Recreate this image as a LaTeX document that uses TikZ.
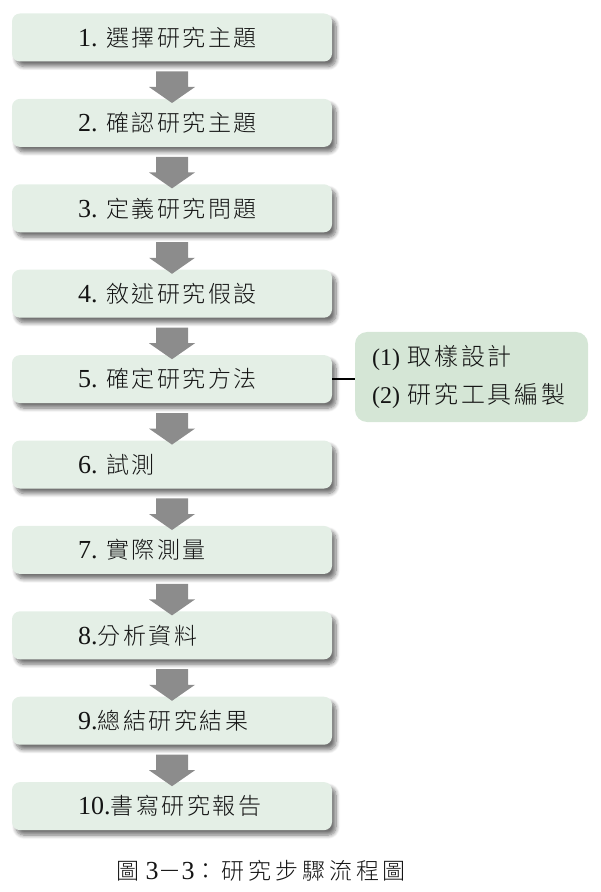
\documentclass[tikz,border=0pt]{standalone}
\usepackage{fontspec}
\setmainfont{Liberation Serif}
\newfontfamily\latinfont{Liberation Serif}
\newfontfamily\cjkfont[LetterSpace=11, UprightFont=* Light]{Noto Sans CJK TC}
\newfontfamily\cjkwide[LetterSpace=17, UprightFont=* Light]{Noto Sans CJK TC}
\newcommand{\zhtext}[1]{{\cjkfont\fontsize{11.5pt}{14pt}\selectfont #1}}
\newcommand{\zhside}[1]{{\cjkfont\fontsize{12pt}{14pt}\selectfont #1}}
\newcommand{\zhcap}[1]{{\cjkwide\fontsize{11.5pt}{14pt}\selectfont #1}}
\usetikzlibrary{calc,shadows.blur}

\definecolor{boxfill}{RGB}{228,239,230}
\definecolor{sidefill}{RGB}{213,230,214}
\definecolor{arrowgray}{RGB}{140,140,140}
\definecolor{inkcol}{RGB}{20,20,20}

\tikzset{
  stepbox/.style={fill=boxfill, rounded corners=4pt,
    minimum width=160pt, minimum height=24pt,
    inner xsep=33pt, inner ysep=0pt, text=inkcol,
    font=\latinfont\fontsize{13pt}{15pt}\selectfont,
    blur shadow={shadow xshift=2pt, shadow yshift=-2.5pt,
      shadow blur radius=2pt, shadow blur steps=8, shadow opacity=55}},
  sidebox/.style={fill=sidefill, rounded corners=6pt,
    minimum width=116.5pt, minimum height=45pt,
    inner xsep=8.5pt, inner ysep=0pt, text width=99.5pt, align=left,
    text=inkcol, font=\latinfont\fontsize{12pt}{19pt}\selectfont},
  caption/.style={text=inkcol, inner sep=0pt,
    font=\latinfont\fontsize{13pt}{15pt}\selectfont},
  linkline/.style={draw=black, line width=1pt}
}

% label text starts at a fixed distance from the left edge of its box
\newcommand{\boxlabel}[1]{\makebox[94pt][l]{#1}}

% thick block arrow from the bottom of one step to the top of the next
\newcommand{\flowarrow}[2]{%
  \fill[arrowgray]
    ($(#1.south)+(-16,9.5)$) -- ($(#1.south)+(16,9.5)$) --
    ($(#2.north)+(16,-11.5)$) -- ($(#2.north)+(23,-11.5)$) --
    ($(#2.north)+(0,4.5)$) --
    ($(#2.north)+(-23,-11.5)$) -- ($(#2.north)+(-16,-11.5)$) -- cycle;}

\begin{document}
\begin{tikzpicture}[x=0.5pt,y=-0.5pt]
  \useasboundingbox (0,0) rectangle (600,892);

  \node[stepbox] (s1)  at (172,37.5)  {\boxlabel{1. \zhtext{選擇研究主題}}};
  \node[stepbox] (s2)  at (172,122.9) {\boxlabel{2. \zhtext{確認研究主題}}};
  \node[stepbox] (s3)  at (172,208.3) {\boxlabel{3. \zhtext{定義研究問題}}};
  \node[stepbox] (s4)  at (172,293.7) {\boxlabel{4. \zhtext{敘述研究假設}}};
  \node[stepbox] (s5)  at (172,379.1) {\boxlabel{5. \zhtext{確定研究方法}}};
  \node[stepbox] (s6)  at (172,464.5) {\boxlabel{6. \zhtext{試測}}};
  \node[stepbox] (s7)  at (172,549.9) {\boxlabel{7. \zhtext{實際測量}}};
  \node[stepbox] (s8)  at (172,635.3) {\boxlabel{8.\zhtext{分析資料}}};
  \node[stepbox] (s9)  at (172,720.7) {\boxlabel{9.\zhtext{總結研究結果}}};
  \node[stepbox] (s10) at (172,806.1) {\boxlabel{10.\zhtext{書寫研究報告}}};

  \foreach \a/\b in {s1/s2,s2/s3,s3/s4,s4/s5,s5/s6,s6/s7,s7/s8,s8/s9,s9/s10}
    {\flowarrow{\a}{\b}}

  \node[sidebox] (detail) at (471.5,377)
    {(1) \zhside{取樣設計}\\(2) \zhside{研究工具編製}};
  \draw[linkline] (s5.east) -- (s5.east -| detail.west);

  \node[caption] (cap) at (261,871)
    {\zhcap{圖} 3\zhcap{－}3\zhcap{：研究步驟流程圖}};
\end{tikzpicture}
\end{document}
